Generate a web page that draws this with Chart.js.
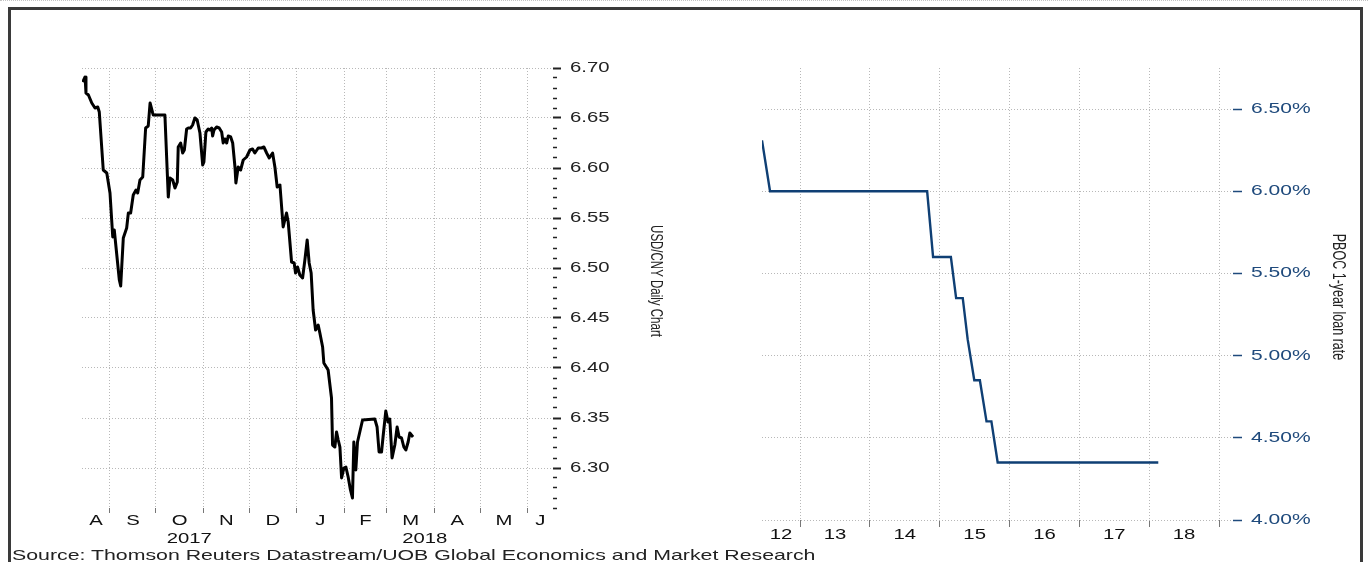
<!DOCTYPE html>
<html><head><meta charset="utf-8">
<script src="https://cdn.jsdelivr.net/npm/chart.js@4.4.1/dist/chart.umd.min.js"></script>
<style>
html,body{margin:0;padding:0;background:#fff;}
body{width:1368px;height:562px;overflow:hidden;position:relative;font-family:"Liberation Sans",Arial,sans-serif;}
#topdots{position:absolute;left:0;top:0;width:1368px;height:0;border-top:1px dotted #c4c4c4;}
#frame{position:absolute;left:8px;top:7px;width:1355px;height:570px;border:3px solid #3a3a3a;border-bottom:none;box-sizing:border-box;}
#c1{position:absolute;left:0;top:0;}
#c2{position:absolute;left:700px;top:0;}
#src{position:absolute;left:12px;top:547px;font-size:15px;line-height:15px;color:#222;white-space:nowrap;transform:scaleX(1.42);transform-origin:0 0;}
</style></head>
<body>
<div id="topdots"></div>
<div id="frame"></div>
<canvas id="c1" width="700" height="562"></canvas>
<canvas id="c2" width="668" height="562"></canvas>
<div id="src">Source: Thomson Reuters Datastream/UOB Global Economics and Market Research</div>
<script>
// ---------- USD/CNY daily (x = days since 1 Aug 2017) ----------
const usdDay = [13.2,14.7,15.3,16.9,19.1,21.2,23.0,24.0,26.6,28.9,
  31.0,32.8,33.8,37.1,38.0,39.7,41.9,43.0,44.5,46.2,
  48.0,49.1,50.6,52.4,54.3,56.0,57.2,58.9,59.3,66.9,
  69.1,70.2,72.0,73.5,75.0,75.6,77.2,78.5,79.6,81.1,
  82.2,83.7,85.0,86.5,88.0,89.8,91.6,92.4,93.7,95.2,
  96.3,97.5,98.1,99.0,100.7,102.4,104.0,105.0,106.1,107.3,
  108.3,109.9,111.2,112.7,113.3,114.8,116.4,118.1,120.3,122.5,
  124.2,125.7,127.9,130.1,131.6,133.4,135.1,137.3,138.8,140.3,
  142.1,144.2,146.4,147.5,149.7,151.4,152.3,153.6,155.1,156.9,
  158.4,159.9,161.2,162.5,163.8,165.4,167.1,168.2,170.0,170.8,
  173.6,175.8,176.5,178.0,179.1,180.2,181.3,182.4,183.9,185.2,
  186.7,188.2,189.5,190.4,191.7,192.8,194.3,196.1,204.1,205.6,
  206.9,208.5,209.5,211.3,212.8,213.9,215.4,217.2,218.7,220.0,
  221.6,223.1,224.4,225.9,227.0,229.1];
const usdCny = [6.686,6.691,6.675,6.673,6.665,6.660,6.661,6.656,6.598,6.595,
  6.575,6.531,6.538,6.488,6.482,6.530,6.540,6.555,6.555,6.573,
  6.578,6.575,6.588,6.591,6.640,6.642,6.665,6.655,6.653,6.653,
  6.571,6.590,6.588,6.580,6.586,6.621,6.625,6.615,6.618,6.639,
  6.640,6.640,6.643,6.650,6.648,6.635,6.603,6.606,6.636,6.639,
  6.638,6.640,6.632,6.638,6.641,6.640,6.636,6.625,6.629,6.625,
  6.632,6.631,6.625,6.601,6.585,6.601,6.598,6.608,6.611,6.618,
  6.619,6.615,6.620,6.620,6.621,6.615,6.610,6.615,6.601,6.581,
  6.583,6.541,6.555,6.546,6.506,6.505,6.495,6.501,6.493,6.490,
  6.508,6.528,6.505,6.495,6.458,6.438,6.443,6.435,6.421,6.405,
  6.398,6.370,6.323,6.321,6.336,6.328,6.321,6.290,6.300,6.301,
  6.291,6.278,6.270,6.326,6.298,6.326,6.336,6.348,6.349,6.341,
  6.316,6.316,6.331,6.357,6.346,6.349,6.310,6.323,6.341,6.331,
  6.330,6.321,6.318,6.326,6.335,6.331];
const monthLetters = ['A','S','O','N','D','J','F','M','A','M','J'];
const monthStartDay = [31,61,92,122,153,184,212,243,273,304];
const yearLabels = ['2017','2018'];
const yearStartDay = [153];
const usdMajorTicks = [6.30,6.35,6.40,6.45,6.50,6.55,6.60,6.65,6.70];
const usdMin = 6.26, usdMax = 6.70, usdDayMin = 12.7, usdDayMax = 320.6;

// ---------- PBOC 1-year loan rate (x = decimal year) ----------
const pbocYear = [2012.455,2012.57,2014.82,2014.905,2015.16,2015.235,2015.33,2015.40,2015.495,2015.575,2015.67,2015.74,2015.83,2018.13];
const pbocRate = [6.31,6.00,6.00,5.60,5.60,5.35,5.35,5.10,4.85,4.85,4.60,4.60,4.35,4.35];
const pbocYearLabels = ['12','13','14','15','16','17','18'];
const pbocYearStart = [2013,2014,2015,2016,2017,2018,2019];
const rateTicks = [4.0,4.5,5.0,5.5,6.0,6.5];
const rateMin = 4.0, rateMax = 6.75, pbocXMin = 2012.455, pbocXMax = 2019.2;

const FONT = '"Liberation Sans", Arial, sans-serif';
const GRID = '#b8b8b8';
const CLEAR = 'rgba(0,0,0,0)';
const SX = 1.45; // horizontal stretch of the original picture's text

function periodTicks(starts, labels, min, max, withEdges) {
  const edges = [min, ...starts, max];
  const list = withEdges ? starts.map(v => ({value: v, edge: true, label: ''})) : [];
  labels.forEach((l, i) => list.push({value: (edges[i] + edges[i + 1]) / 2, edge: false, label: l}));
  return list.sort((a, b) => a.value - b.value);
}
const isMajor = v => Math.round(v * 100) % 5 === 0;

// text in the reference is stretched horizontally: widen glyphs around their anchor
const stretchPlugin = { id: 'stretch', beforeDraw(chart) {
  const c = chart.ctx;
  if (c.__stretched) return;
  const orig = CanvasRenderingContext2D.prototype.fillText;
  c.fillText = function (t, x, y, m) {
    this.save(); this.translate(x, y); this.scale(SX, 1);
    if (m !== undefined) orig.call(this, t, 0, 0, m); else orig.call(this, t, 0, 0);
    this.restore();
  };
  c.__stretched = true;
} };
function vTitlePlugin(text, x, y, size, color) {
  return { id: 'vtitle', afterDraw(chart) {
    const c = chart.ctx; c.save();
    c.font = size + 'px ' + FONT; c.fillStyle = color;
    c.translate(x, y); c.scale(SX, 1); c.rotate(Math.PI / 2);
    c.textAlign = 'center'; c.textBaseline = 'middle';
    CanvasRenderingContext2D.prototype.fillText.call(c, text, 0, 0); c.restore();
  } };
}

// ---------- Chart 1 ----------
const xTicks1 = periodTicks(monthStartDay, monthLetters, usdDayMin, usdDayMax, true);
const yrTicks1 = periodTicks(yearStartDay, yearLabels, usdDayMin, usdDayMax, false);
const yTicks1 = [];
for (let i = Math.round(usdMin * 100); i <= Math.round(usdMax * 100); i++) yTicks1.push(i / 100);

new Chart(document.getElementById('c1'), {
  type: 'line',
  data: { datasets: [{
    data: usdDay.map((d, i) => ({x: d, y: usdCny[i]})),
    borderColor: '#000', borderWidth: 3, pointRadius: 0, tension: 0,
    borderJoinStyle: 'round', xAxisID: 'x', yAxisID: 'y'
  }] },
  options: {
    responsive: false, animation: false, devicePixelRatio: 1,
    layout: { padding: { left: 82, top: 68, right: 0, bottom: 0 } },
    plugins: { legend: { display: false }, tooltip: { enabled: false } },
    scales: {
      x: {
        type: 'linear', min: usdDayMin, max: usdDayMax, weight: 0,
        afterBuildTicks: s => { s.ticks = xTicks1.map(t => ({value: t.value, edge: t.edge})); },
        afterFit: s => { s.height = 23; },
        grid: {
          color: c => (c.tick && c.tick.edge) ? GRID : CLEAR, lineWidth: 1,
          tickLength: 5, tickWidth: 1, tickBorderDash: [],
          tickColor: c => (c.tick && c.tick.edge) ? '#777' : CLEAR
        },
        border: { display: false, dash: [1, 2] },
        ticks: { autoSkip: false, maxRotation: 0, minRotation: 0, padding: 0, color: '#111',
          font: { family: FONT, size: 14 }, callback: (v, i) => xTicks1[i] ? xTicks1[i].label : '' }
      },
      x2: {
        type: 'linear', position: 'bottom', min: usdDayMin, max: usdDayMax, weight: 1,
        afterBuildTicks: s => { s.ticks = yrTicks1.map(t => ({value: t.value})); },
        afterFit: s => { s.height = 31; },
        grid: { display: false, drawTicks: false },
        border: { display: false },
        ticks: { autoSkip: false, maxRotation: 0, minRotation: 0, padding: 0, color: '#111',
          font: { family: FONT, size: 14 }, callback: (v, i) => yrTicks1[i] ? yrTicks1[i].label : '' }
      },
      y: {
        position: 'right', min: usdMin, max: usdMax,
        afterBuildTicks: s => { s.ticks = yTicks1.map(v => ({value: v})); },
        afterFit: s => { s.width = 147; },
        grid: {
          color: c => (c.tick && isMajor(c.tick.value)) ? GRID : CLEAR,
          lineWidth: 1, tickLength: 8, tickColor: '#222',
          tickWidth: c => (c.tick && isMajor(c.tick.value)) ? 2 : 1.5,
          tickBorderDash: c => (c.tick && isMajor(c.tick.value)) ? [] : [4, 30]
        },
        border: { display: false, dash: [1, 2] },
        ticks: { autoSkip: false, padding: 9, color: '#222', font: { family: FONT, size: 14 },
          callback: v => usdMajorTicks.some(m => Math.abs(m - v) < 1e-6) ? v.toFixed(2) : '' }
      }
    }
  },
  plugins: [stretchPlugin, vTitlePlugin('USD/CNY Daily Chart', 656, 281, 11.5, '#222')]
});

// ---------- Chart 2 ----------
const xTicks2 = periodTicks(pbocYearStart, pbocYearLabels, pbocXMin, pbocXMax, true);

new Chart(document.getElementById('c2'), {
  type: 'line',
  data: { datasets: [{
    data: pbocYear.map((d, i) => ({x: d, y: pbocRate[i]})),
    borderColor: '#0f3f74', borderWidth: 2.4, pointRadius: 0, tension: 0,
    borderJoinStyle: 'miter', xAxisID: 'x', yAxisID: 'y'
  }] },
  options: {
    responsive: false, animation: false, devicePixelRatio: 1,
    layout: { padding: { left: 62, top: 68, right: 0, bottom: 0 } },
    plugins: { legend: { display: false }, tooltip: { enabled: false } },
    scales: {
      x: {
        type: 'linear', min: pbocXMin, max: pbocXMax,
        afterBuildTicks: s => { s.ticks = xTicks2.map(t => ({value: t.value, edge: t.edge})); },
        afterFit: s => { s.height = 42; },
        grid: {
          color: c => (c.tick && c.tick.edge) ? GRID : CLEAR, lineWidth: 1,
          tickLength: 7, tickWidth: 1, tickBorderDash: [],
          tickColor: c => (c.tick && c.tick.edge) ? '#777' : CLEAR
        },
        border: { display: false, dash: [1, 2] },
        ticks: { autoSkip: false, maxRotation: 0, minRotation: 0, padding: 0, color: '#111',
          font: { family: FONT, size: 14 }, callback: (v, i) => xTicks2[i] ? xTicks2[i].label : '' }
      },
      y: {
        position: 'right', min: rateMin, max: rateMax,
        afterBuildTicks: s => { s.ticks = rateTicks.map(v => ({value: v})); },
        afterFit: s => { s.width = 135; },
        grid: { color: GRID, lineWidth: 1, tickLength: 9, tickColor: '#1f4a7c', tickWidth: 1.5, tickBorderDash: [] },
        border: { display: false, dash: [1, 2] },
        ticks: { autoSkip: false, padding: 9, color: '#1f4a7c', font: { family: FONT, size: 14.5 },
          callback: v => v.toFixed(2) + '%' }
      }
    }
  },
  plugins: [stretchPlugin, vTitlePlugin('PBOC 1-year loan rate', 638, 297, 12.5, '#222')]
});
</script>
</body></html>
